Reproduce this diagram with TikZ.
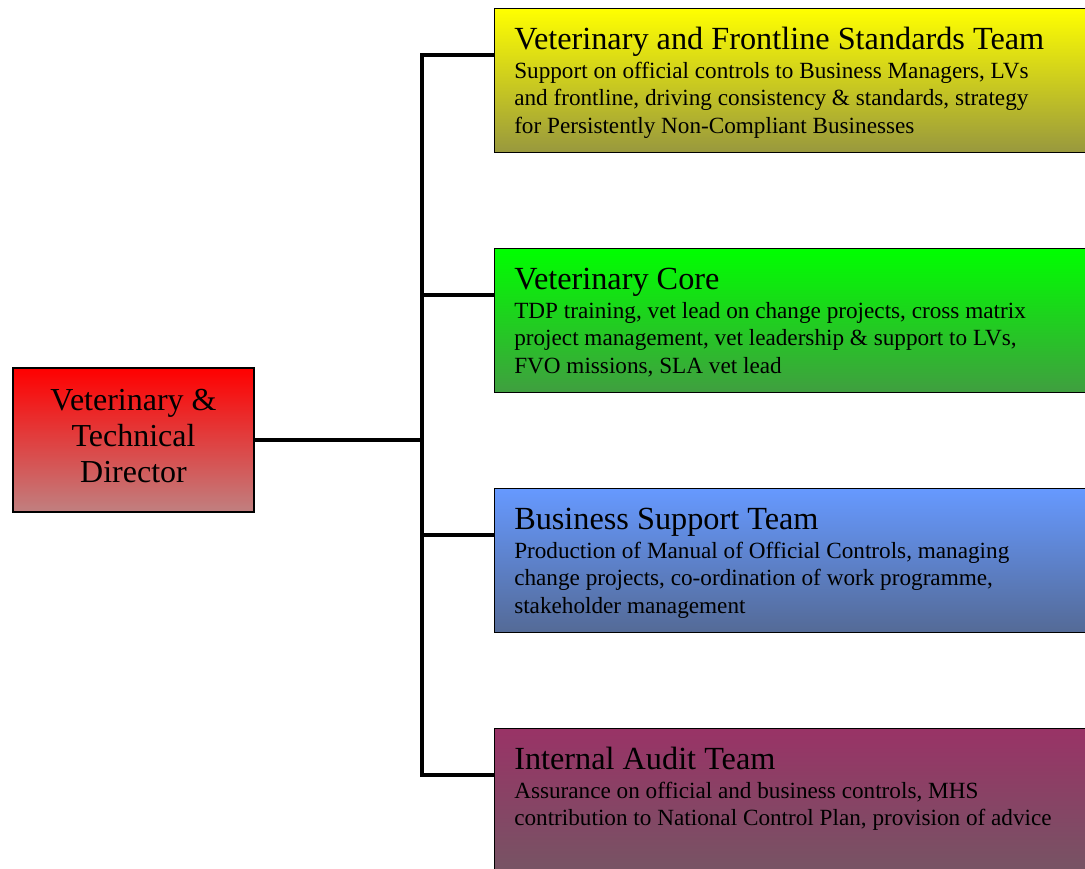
\documentclass[tikz,border=0pt]{standalone}
\usepackage{fontspec}
\setmainfont{Liberation Serif}
\definecolor{yeltop}{RGB}{255,255,0}
\definecolor{yelbot}{RGB}{152,152,62}
\definecolor{grntop}{RGB}{0,255,0}
\definecolor{grnbot}{RGB}{64,158,64}
\definecolor{blutop}{RGB}{102,153,255}
\definecolor{blubot}{RGB}{84,106,150}
\definecolor{purtop}{RGB}{153,51,102}
\definecolor{purbot}{RGB}{118,84,100}
\definecolor{redtop}{RGB}{255,0,0}
\definecolor{redbot}{RGB}{192,128,128}
\tikzset{
  teambox/.style={draw=black, line width=1pt, rectangle, anchor=north west,
    minimum width=460pt, minimum height=108pt, inner sep=0pt},
  dirbox/.style={draw=black, line width=1pt, rectangle, top color=redtop, bottom color=redbot,
    minimum width=180.75pt, minimum height=108pt, align=center,
    font=\fontsize{24}{27.2}\selectfont},
  titletext/.style={anchor=base west, inner sep=0pt, font=\fontsize{24.2}{28}\selectfont},
  desctext/.style={anchor=base west, inner sep=0pt, align=left, font=\fontsize{17.4}{20.6}\selectfont},
  wire/.style={line width=3.4pt}
}
\begin{document}
\begin{tikzpicture}[x=0.75pt,y=0.75pt,yscale=-1,xscale=1]
\useasboundingbox (0,0) rectangle (1085,868);
\clip (0,0) rectangle (1085,868);

%Connector points
\coordinate (bus) at (422,440);
\coordinate (vfs-in) at (494,55);
\coordinate (core-in) at (494,295);
\coordinate (bst-in) at (494,535);
\coordinate (iat-in) at (494,775);

%Shape: Director
\node[dirbox] (dir) at (133.5,440) {Veterinary \&\\Technical\\Director\\[-21pt]};

%Straight Lines
\draw[wire] (dir.east) -- (bus);
\draw[wire] (vfs-in) -- (vfs-in -| bus) -- (iat-in -| bus) -- (iat-in);
\draw[wire] (core-in -| bus) -- (core-in);
\draw[wire] (bst-in -| bus) -- (bst-in);

%Shape: Team boxes
\node[teambox, top color=yeltop, bottom color=yelbot] (vfs) at (494,8) {};
\node[teambox, top color=grntop, bottom color=grnbot] (core) at (494,248) {};
\node[teambox, top color=blutop, bottom color=blubot] (bst) at (494,488) {};
\node[teambox, top color=purtop, bottom color=purbot] (iat) at (494,728) {};

% Text Node (base = last line)
\node[titletext] (vfs-title) at (514,49) {Veterinary and Frontline Standards Team};
\node[desctext] (vfs-text) at (514,133) {Support on official controls to Business Managers, LVs\\and frontline, driving consistency \& standards, strategy\\for Persistently Non-Compliant Businesses};
% Text Node
\node[titletext] (core-title) at (514,289) {Veterinary Core};
\node[desctext] (core-text) at (514,373) {TDP training, vet lead on change projects, cross matrix\\project management, vet leadership \& support to LVs,\\FVO missions, SLA vet lead};
% Text Node
\node[titletext] (bst-title) at (514,529) {Business Support Team};
\node[desctext] (bst-text) at (514,613) {Production of Manual of Official Controls, managing\\change projects, co-ordination of work programme,\\stakeholder management};
% Text Node
\node[titletext] (iat-title) at (514,769) {Internal Audit Team};
\node[desctext] (iat-text) at (514,825.5) {Assurance on official and business controls, MHS\\contribution to National Control Plan, provision of advice};

\end{tikzpicture}
\end{document}
